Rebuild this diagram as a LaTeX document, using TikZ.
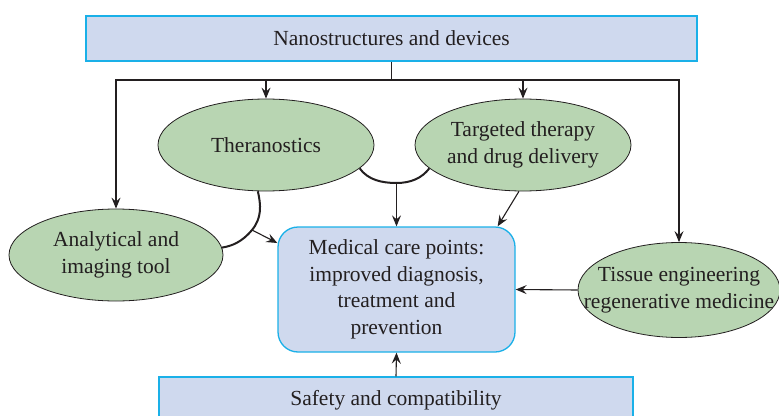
\documentclass[tikz,border=0pt]{standalone}
\usepackage{fontspec}
\setmainfont{Liberation Serif}
\usetikzlibrary{shapes.geometric,arrows.meta,calc}
\definecolor{boxfill}{HTML}{CFD9EE}
\definecolor{boxline}{HTML}{1AB0E8}
\definecolor{ovalfill}{HTML}{B8D5B2}
\definecolor{inkcol}{HTML}{231F20}
\tikzset{
  every node/.style={font=\fontsize{21.5}{26.5}\selectfont, text=inkcol},
  bluebox/.style={draw=boxline, line width=1.3pt, fill=boxfill},
  oval/.style={ellipse, draw=inkcol, line width=0.8pt, fill=ovalfill, inner sep=0pt, align=center},
  link/.style={inkcol, line width=1.1pt, -{Stealth[length=11pt,width=9pt,inset=4pt]}},
  bond/.style={inkcol, line width=2pt}
}
\begin{document}
\begin{tikzpicture}[x=1pt,y=-1pt]
  \useasboundingbox (0,0) rectangle (779,415);
  % boxes
  \node[bluebox, minimum width=611pt, minimum height=45pt] (nano) at (391.5,38.5) {Nanostructures and devices};
  \node[bluebox, rounded corners=20pt, minimum width=237pt, minimum height=125pt, align=center] (med) at (396.5,289.5)
    {Medical care points:\\improved diagnosis,\\treatment and\\prevention};
  \node[bluebox, minimum width=474pt, minimum height=46pt] (safe) at (396,400) {Safety and compatibility};
  % ellipses
  \node[oval, minimum width=216pt, minimum height=92pt] (thera) at (266,145) {Theranostics};
  \node[oval, minimum width=216pt, minimum height=92pt] (target) at (523,145) {Targeted therapy\\and drug delivery};
  \node[oval, minimum width=214pt, minimum height=92pt] (anal) at (116,255) {Analytical and\\imaging tool};
  \node[oval, inner xsep=-24pt, minimum width=202pt, minimum height=95pt] (tissue) at (679,290) {Tissue engineering\\regenerative medicine};
  % bus from the top box
  \coordinate (bus) at (391.5,80);
  \draw[inkcol, line width=1.1pt] (nano.south) -- (bus);
  \draw[link] (bus) -| (anal.north);
  \draw[link] (bus) -| (tissue.north);
  \draw[link] (thera.north |- bus) -- (thera.north);
  \draw[link] (target.north |- bus) -- (target.north);
  % joined pairs
  \coordinate (bj) at (396.5,183);
  \coordinate (lj) at (252,230);
  \draw[bond] (thera.-14) .. controls (368,180) and (382,183) .. (bj)
    .. controls (411,183) and (422,178) .. (target.194);
  \draw[bond] (thera.-100) .. controls (261,205) and (262,218) .. (lj)
    .. controls (242,242) and (232,246) .. (anal.4);
  \draw[link] (bj) -- (med.north);
  \draw[link] (lj) -- (med.west |- 0,243);
  % into the care points
  \draw[link] (target.-95) -- ($(med.north east)+(-18,0)$);
  \draw[link] (tissue.west) -- (med.east);
  \draw[link] (safe.north) -- (med.south);
\end{tikzpicture}
\end{document}
